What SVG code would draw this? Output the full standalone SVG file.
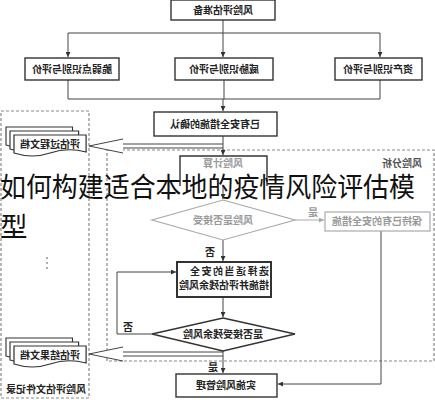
<svg xmlns="http://www.w3.org/2000/svg" width="435" height="400" viewBox="0 0 435 400">
<defs>
<style>
.box{fill:#fff;stroke:#333;stroke-width:1.4}
.gbox{fill:#fff;stroke:#aaa;stroke-width:1.2}
.ln{fill:none;stroke:#444;stroke-width:1}
.gln{fill:none;stroke:#aaa;stroke-width:1}
.dash{fill:none;stroke:#888;stroke-width:1.2;stroke-dasharray:3 2}
.t{font-family:"Noto Sans CJK SC","Noto Sans",sans-serif;font-size:10px;fill:#222;text-anchor:middle;font-weight:bold}
.gt{font-family:"Noto Sans CJK SC","Noto Sans",sans-serif;font-size:10px;fill:#999;text-anchor:middle;font-weight:bold}
.doc{fill:#fff;stroke:#333;stroke-width:1.2}
.ov{font-family:"Noto Sans CJK SC","Noto Sans",sans-serif;font-size:27.5px;fill:#111}
</style>
<marker id="ah" viewBox="0 0 8 8" refX="8" refY="4" markerWidth="5" markerHeight="5" orient="auto"><path d="M0,0 L8,4 L0,8 Z" fill="#333"/></marker>
<marker id="gah" viewBox="0 0 8 8" refX="8" refY="4" markerWidth="5" markerHeight="5" orient="auto"><path d="M0,0 L8,4 L0,8 Z" fill="#aaa"/></marker>
<path id="docshape" d="M0,0 H70 V17 Q52,12 35,18 T0,18 Z"/>
</defs>
<rect width="435" height="400" fill="#fff"/>

<!-- dashed containers -->
<g id="record-area">
<rect class="dash" x="1" y="111" width="88" height="287"/>
<text class="t" x="-46" y="393" transform="scale(-1,1)">风险评估文件记录</text>
<g fill="#888"><circle cx="47" cy="258" r="0.9"/><circle cx="47" cy="263" r="0.9"/><circle cx="47" cy="268" r="0.9"/></g>
</g>
<g id="analysis-area">
<rect class="dash" x="107" y="150" width="327" height="211"/>
<text class="t" x="-402" y="167" transform="scale(-1,1)" style="fill:#555">风险分析</text>
</g>

<g id="connectors">
<path class="ln" d="M223,20 V33 M68,33 H380"/>
<path class="ln" d="M68,33 V57" marker-end="url(#ah)"/>
<path class="ln" d="M223,33 V57" marker-end="url(#ah)"/>
<path class="ln" d="M380,33 V57" marker-end="url(#ah)"/>
<path class="ln" d="M68,80 V99 H380 V80 M224,80 V99"/>
<path class="ln" d="M223,99 V111" marker-end="url(#ah)"/>
<path class="ln" d="M223,136 V155" marker-end="url(#ah)"/>
<path class="ln" d="M223,185 V199" marker-end="url(#ah)"/>
<path class="gln" d="M295,220 H324" marker-end="url(#gah)"/>
<path class="ln" d="M223,240 V261" marker-end="url(#ah)"/>
<path class="ln" d="M223,297 V317" marker-end="url(#ah)"/>
<path class="ln" d="M152,334 H117 V272 H176" marker-end="url(#ah)"/>
<path class="ln" d="M223,351 V373" marker-end="url(#ah)"/>
<path class="ln" d="M381,231 V384 H278" marker-end="url(#ah)"/>
<!-- hollow arrows -->
<path class="ln" d="M223,144 H123 M223,148 H123"/>
<path class="ln" d="M123,139 L89,146 L123,153" style="fill:#fff"/>
<path class="ln" d="M223,352 H123 M223,356 H123"/>
<path class="ln" d="M123,347 L89,354 L123,361" style="fill:#fff"/>
<text class="gt" x="-313" y="216" transform="scale(-1,1)">是</text>
<text class="t" x="-210" y="256" transform="scale(-1,1)">否</text>
<text class="t" x="-128" y="331" transform="scale(-1,1)">否</text>
<text class="t" x="-213" y="371" transform="scale(-1,1)">是</text>
</g>

<g id="prep"><rect class="box" x="171" y="0" width="104" height="20"/><text class="t" x="-223" y="14" transform="scale(-1,1)">风险评估准备</text></g>
<g id="vuln"><rect class="box" x="25" y="58" width="94" height="22"/><text class="t" x="-72" y="73" transform="scale(-1,1)">脆弱点识别与评价</text></g>
<g id="threat"><rect class="box" x="175" y="58" width="98" height="22"/><text class="t" x="-224" y="73" transform="scale(-1,1)">威胁识别与评价</text></g>
<g id="asset"><rect class="box" x="335" y="58" width="87" height="22"/><text class="t" x="-378" y="73" transform="scale(-1,1)">资产识别与评价</text></g>
<g id="confirm"><rect class="box" x="154" y="112" width="123" height="24"/><text class="t" x="-215" y="128" transform="scale(-1,1)">已有安全措施的确认</text></g>
<g id="calc"><path d="M180,186 V156 H267 V186" fill="#fff" stroke="#333" stroke-width="1.4"/><text class="gt" x="-223" y="167" transform="scale(-1,1)">风险计算</text></g>
<g id="accept"><polygon points="223,200 295,220 223,240 152,220" fill="#fff" stroke="#aaa" stroke-width="1.2"/><text class="gt" x="-223" y="224" transform="scale(-1,1)">风险是否接受</text></g>
<g id="keep"><rect class="gbox" x="325" y="212" width="105" height="19"/><text class="gt" x="-377" y="225" transform="scale(-1,1)">保持已有的安全措施</text></g>
<g id="select"><rect class="box" x="177" y="262" width="94" height="35" style="stroke-width:2"/>
<text class="t" x="-269" y="275" transform="scale(-1,1)" style="text-anchor:start;letter-spacing:1.5px">选择适当的安全</text>
<text class="t" x="-269" y="289" transform="scale(-1,1)" style="text-anchor:start">措施并评估残余风险</text></g>
<g id="residual"><polygon points="223,318 295,334 223,351 152,334" fill="#fff" stroke="#333" stroke-width="1.4"/><text class="t" x="-223" y="338" transform="scale(-1,1)">是否接受残余风险</text></g>
<g id="implement"><rect class="box" x="176" y="374" width="101" height="23"/><text class="t" x="-226" y="389" transform="scale(-1,1)">实施风险管理</text></g>

<g id="doc-process">
<use href="#docshape" class="doc" transform="translate(6,127) scale(0.95,1)"/>
<use href="#docshape" class="doc" transform="translate(10,131) scale(0.98,1)"/>
<use href="#docshape" class="doc" transform="translate(14,135) scale(1.03,1)"/>
<text class="t" x="-50" y="148" transform="scale(-1,1)">评估过程文档</text>
</g>
<g id="doc-result">
<use href="#docshape" class="doc" transform="translate(6,338) scale(0.95,1)"/>
<use href="#docshape" class="doc" transform="translate(10,342) scale(0.98,1)"/>
<use href="#docshape" class="doc" transform="translate(14,346) scale(1.03,1)"/>
<text class="t" x="-50" y="359" transform="scale(-1,1)">评估结果文档</text>
</g>

<g id="overlay">
<text class="ov" x="0" y="197" textLength="415" lengthAdjust="spacingAndGlyphs">如何构建适合本地的疫情风险评估模</text>
<text class="ov" x="0" y="237">型</text>
</g>
</svg>
